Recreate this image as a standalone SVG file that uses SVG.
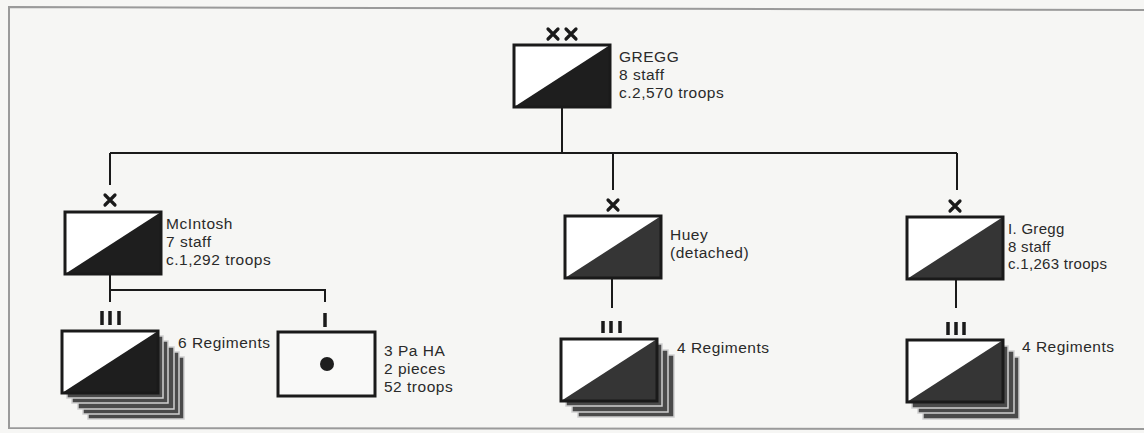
<svg xmlns="http://www.w3.org/2000/svg" xmlns:xlink="http://www.w3.org/1999/xlink" width="1144" height="433" viewBox="0 0 1144 433">
<style>
.bg{fill:#f6f6f4}
.frame{fill:none;stroke:#9a9a9a;stroke-width:2}
.conn{fill:none;stroke:#1a1a1a;stroke-width:2}
.ech{fill:none;stroke:#1a1a1a;stroke-width:3.5;stroke-linecap:butt}
.xm{fill:none;stroke:#1a1a1a;stroke-width:3.2;stroke-linecap:round}
.lbl{font-family:"Liberation Sans",Arial,sans-serif;font-size:15.5px;letter-spacing:0.5px;fill:#2a2a2a}
.back{fill:#4a4a4a;stroke:#d0d0d0;stroke-width:1.5}
.boxw{fill:#ffffff}
.boxd{fill:#1e1e1e}
.boxd2{fill:#353535}
.boxs{fill:none;stroke:#1a1a1a;stroke-width:3}
</style>
<defs>
<g id="unit">
<rect class="boxw" x="0" y="0" width="96" height="62"/>
<polygon class="boxd" points="0,62 96,0 96,62"/>
<rect class="boxs" x="0" y="0" width="96" height="62"/>
</g>
<g id="unit2">
<rect class="boxw" x="0" y="0" width="96" height="62"/>
<polygon class="boxd2" points="0,62 96,0 96,62"/>
<rect class="boxs" x="0" y="0" width="96" height="62"/>
</g>
<rect id="card" class="back" x="0" y="0" width="96" height="62"/>
<g id="xmark"><path class="xm" d="M-5,-5 L5,5 M-5,5 L5,-5"/></g>
</defs>
<rect class="bg" x="0" y="0" width="1144" height="433"/>
<path class="frame" d="M1144,10 L9,7 L9,428 L1144,429"/>

<g id="connectors">
<path class="conn" d="M562,108 V153 M110,153 H957 M110,153 V185 M613,153 V190 M957,153 V190"/>
<path class="conn" d="M110,275 V302 M110,290 H325 V302"/>
<path class="conn" d="M612,278 V308"/>
<path class="conn" d="M956,280 V308"/>
</g>

<g id="gregg">
<use xlink:href="#xmark" x="553" y="34"/>
<use xlink:href="#xmark" x="571" y="34"/>
<use xlink:href="#unit" x="514" y="45"/>
<text class="lbl" x="619" y="62">GREGG</text>
<text class="lbl" x="619" y="80">8 staff</text>
<text class="lbl" x="619" y="98">c.2,570 troops</text>
</g>

<g id="mcintosh">
<use xlink:href="#xmark" x="110" y="200"/>
<use xlink:href="#unit" x="65" y="212"/>
<text class="lbl" x="166" y="229">McIntosh</text>
<text class="lbl" x="166" y="247">7 staff</text>
<text class="lbl" x="166" y="265">c.1,292 troops</text>
</g>

<g id="huey">
<use xlink:href="#xmark" x="613" y="205"/>
<use xlink:href="#unit2" x="565" y="216"/>
<text class="lbl" x="670" y="240">Huey</text>
<text class="lbl" x="670" y="258">(detached)</text>
</g>

<g id="igregg">
<use xlink:href="#xmark" x="955" y="206"/>
<use xlink:href="#unit2" x="907" y="217"/>
<text class="lbl" x="1008" y="234" style="font-size:15px;letter-spacing:0.3px">I. Gregg</text>
<text class="lbl" x="1008" y="251.5" style="font-size:15px;letter-spacing:0.3px">8 staff</text>
<text class="lbl" x="1008" y="269" style="font-size:15px;letter-spacing:0.3px">c.1,263 troops</text>
</g>

<g id="mcintosh-regiments">
<path class="ech" d="M102,311 V325 M110,311 V325 M119,311 V325"/>
<use xlink:href="#card" x="88" y="357"/>
<use xlink:href="#card" x="83" y="352"/>
<use xlink:href="#card" x="78" y="347"/>
<use xlink:href="#card" x="72" y="341"/>
<use xlink:href="#card" x="67" y="336"/>
<use xlink:href="#unit" x="62" y="331"/>
<text class="lbl" x="178" y="348">6 Regiments</text>
</g>

<g id="artillery">
<path class="ech" d="M325,313 V327"/>
<rect x="278" y="332" width="97" height="64" fill="#f9f9f8" stroke="#1a1a1a" stroke-width="3"/>
<circle cx="327" cy="364" r="7" fill="#1e1e1e"/>
<text class="lbl" x="384" y="356">3 Pa HA</text>
<text class="lbl" x="384" y="374">2 pieces</text>
<text class="lbl" x="384" y="392">52 troops</text>
</g>

<g id="huey-regiments">
<path class="ech" d="M603,321 V333 M611,321 V333 M620,321 V333"/>
<use xlink:href="#card" x="578" y="355"/>
<use xlink:href="#card" x="572" y="350"/>
<use xlink:href="#card" x="566" y="344"/>
<use xlink:href="#unit2" x="561" y="339"/>
<text class="lbl" x="677" y="353">4 Regiments</text>
</g>

<g id="igregg-regiments">
<path class="ech" d="M948,322 V335 M956,322 V335 M964,322 V335"/>
<use xlink:href="#card" x="923" y="357"/>
<use xlink:href="#card" x="918" y="351"/>
<use xlink:href="#card" x="912" y="346"/>
<use xlink:href="#unit2" x="907" y="340"/>
<text class="lbl" x="1022" y="352">4 Regiments</text>
</g>
</svg>
